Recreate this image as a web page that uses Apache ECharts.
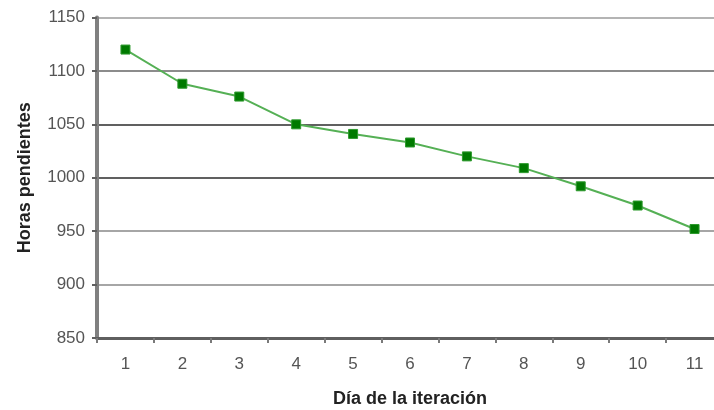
<!DOCTYPE html>
<html>
<head>
<meta charset="utf-8">
<script src="https://cdn.jsdelivr.net/npm/echarts@6/dist/echarts.min.js"></script>
<style>
html,body{margin:0;padding:0;background:#fff;}
#chart{width:714px;height:410px;}
</style>
</head>
<body>
<div id="chart"></div>
<script>
const categories = ['1','2','3','4','5','6','7','8','9','10','11'];
const horasPendientes = [1120, 1088, 1076, 1050, 1041, 1033, 1020, 1009, 992, 974, 952];
const yMin = 850, yMax = 1150, yStep = 50;
const xAxisTitle = 'Día de la iteración';
const yAxisTitle = 'Horas pendientes';

const chart = echarts.init(document.getElementById('chart'), null, {renderer: 'canvas'});
chart.setOption({
  backgroundColor: '#ffffff',
  animation: false,
  grid: {left: 97, right: -9, top: 17.5, bottom: 72, containLabel: false, outerBoundsMode: 'none'},
  xAxis: {
    type: 'category',
    data: categories,
    boundaryGap: true,
    name: xAxisTitle,
    nameLocation: 'middle',
    nameGap: 52,
    nameTextStyle: {fontFamily: 'Liberation Sans, Arial, sans-serif', fontSize: 18, fontWeight: 'bold', color: '#222'},
    axisLine: {show: true, lineStyle: {color: '#5f5f5f', width: 3}},
    axisTick: {show: true, alignWithLabel: false, length: 5, lineStyle: {color: '#7a7a7a', width: 2}},
    axisLabel: {margin: 18, fontFamily: 'Liberation Sans, Arial, sans-serif', fontSize: 17, color: '#555'},
    splitLine: {show: false}
  },
  yAxis: {
    type: 'value',
    min: yMin,
    max: yMax,
    interval: yStep,
    name: yAxisTitle,
    nameLocation: 'middle',
    nameGap: 63,
    nameRotate: 90,
    nameTextStyle: {fontFamily: 'Liberation Sans, Arial, sans-serif', fontSize: 18, fontWeight: 'bold', color: '#222'},
    axisLine: {show: true, lineStyle: {color: '#808080', width: 4}},
    axisTick: {show: true, length: 5, lineStyle: {color: '#606060', width: 2}},
    axisLabel: {margin: 12, fontFamily: 'Liberation Sans, Arial, sans-serif', fontSize: 17, color: '#555', formatter: v => String(v)},
    splitLine: {show: true, lineStyle: {color: ['#606060','#a6a6a6','#a6a6a6','#606060','#606060','#8c8c8c','#b4b4b4'], width: 2}}
  },
  series: [{
    type: 'line',
    data: horasPendientes,
    symbol: 'rect',
    symbolSize: 9,
    lineStyle: {color: '#55b055', width: 2},
    itemStyle: {color: '#007a00', borderColor: '#2e9a2e', borderWidth: 1},
    z: 5
  }]
});
</script>
</body>
</html>
